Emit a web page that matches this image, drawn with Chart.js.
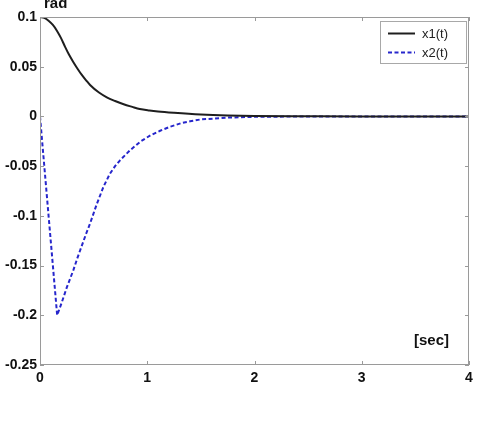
<!DOCTYPE html>
<html>
<head>
<meta charset="utf-8">
<script src="https://cdn.jsdelivr.net/npm/chart.js@4/dist/chart.umd.min.js"></script>
<style>
html,body{margin:0;padding:0;background:#fff;}
canvas{display:block;}
</style>
</head>
<body>
<canvas id="c" width="481" height="426"></canvas>
<script>
// ---- data ----
const x1T = [0, 0.04, 0.08, 0.12, 0.156, 0.195, 0.234, 0.27, 0.31, 0.35, 0.39, 0.43, 0.467, 0.55, 0.623, 0.7, 0.78, 0.86, 0.93, 1.02, 1.1, 1.25, 1.5, 1.75, 2.0, 2.5, 3.0, 3.5, 4.0];
const x1V = [0.1, 0.0992, 0.0963, 0.092, 0.0865, 0.079, 0.070, 0.0622, 0.0548, 0.048, 0.0417, 0.0363, 0.0316, 0.024, 0.0192, 0.0155, 0.0122, 0.0096, 0.0075, 0.006, 0.005, 0.0037, 0.002, 0.001, 0.0005, 0.0002, 0, 0, 0];
const x2T = [0, 0.16, 0.2, 0.25, 0.311, 0.35, 0.39, 0.43, 0.467, 0.53, 0.592, 0.65, 0.7, 0.748, 0.84, 0.935, 1.03, 1.12, 1.21, 1.31, 1.4, 1.5, 1.75, 2.0, 2.5, 3.0, 3.5, 4.0];
const x2V = [0, -0.2, -0.188, -0.172, -0.1546, -0.142, -0.13, -0.118, -0.1076, -0.088, -0.0707, -0.058, -0.050, -0.0439, -0.034, -0.0254, -0.019, -0.0144, -0.0105, -0.007, -0.0048, -0.003, -0.0012, -0.0004, 0, 0, 0, 0];
const seriesNames = ['x1(t)', 'x2(t)'];
const xTicks = [0, 1, 2, 3, 4];
const xTickLabels = ['0', '1', '2', '3', '4'];
const yTicks = [0.1, 0.05, 0, -0.05, -0.1, -0.15, -0.2, -0.25];
const yTickLabels = ['0.1', '0.05', '0', '-0.05', '-0.1', '-0.15', '-0.2', '-0.25'];
const yAxisTitle = 'rad';
const xAxisTitle = '[sec]';

const toPts = (ts, vs) => ts.map((t, i) => ({x: t, y: vs[i]}));

const AXIS = '#9a9a9a';
const FAM = '"Liberation Sans", Arial, sans-serif';

const decor = {
  id: 'decor',
  afterDraw(chart) {
    const {ctx, chartArea: a, scales: {x, y}} = chart;
    ctx.save();
    // box
    ctx.strokeStyle = AXIS;
    ctx.lineWidth = 1;
    ctx.strokeRect(Math.round(a.left) + 0.5, Math.round(a.top) + 0.5, Math.round(a.right - a.left) - 1, Math.round(a.bottom - a.top) - 1);
    // inside ticks
    const L = 4;
    ctx.beginPath();
    xTicks.forEach(v => {
      const px = Math.round(x.getPixelForValue(v)) + 0.5;
      ctx.moveTo(px, a.bottom); ctx.lineTo(px, a.bottom - L);
      ctx.moveTo(px, a.top); ctx.lineTo(px, a.top + L);
    });
    yTicks.forEach(v => {
      const py = Math.round(y.getPixelForValue(v)) + 0.5;
      ctx.moveTo(a.left, py); ctx.lineTo(a.left + L, py);
      ctx.moveTo(a.right, py); ctx.lineTo(a.right - L, py);
    });
    ctx.stroke();
    // axis titles
    ctx.fillStyle = '#111';
    ctx.font = 'bold 15px ' + FAM;
    ctx.textAlign = 'left';
    ctx.textBaseline = 'alphabetic';
    ctx.fillText(yAxisTitle, a.left + 4, 8);
    ctx.fillText(xAxisTitle, a.right - 55, a.bottom - 20);
    // legend
    const lx = 380.5, ly = 21.5, lw = 86, lh = 42;
    ctx.fillStyle = '#fff';
    ctx.fillRect(lx, ly, lw, lh);
    ctx.strokeStyle = '#a8a8a8';
    ctx.strokeRect(lx, ly, lw, lh);
    const rows = [33.5, 52.5];
    chart.data.datasets.forEach((ds, i) => {
      ctx.beginPath();
      ctx.strokeStyle = ds.borderColor;
      ctx.lineWidth = ds.borderWidth;
      ctx.setLineDash(ds.borderDash || []);
      ctx.moveTo(388, rows[i]); ctx.lineTo(415, rows[i]);
      ctx.stroke();
      ctx.setLineDash([]);
      ctx.fillStyle = '#222';
      ctx.font = '13px ' + FAM;
      ctx.textBaseline = 'middle';
      ctx.fillText(seriesNames[i], 422, rows[i] + 0.5);
    });
    ctx.restore();
  }
};

new Chart(document.getElementById('c'), {
  type: 'line',
  data: {
    datasets: [
      {
        label: seriesNames[0],
        data: toPts(x1T, x1V),
        borderColor: '#1e1e1e',
        borderWidth: 2,
        pointRadius: 0,
        cubicInterpolationMode: 'monotone',
        fill: false
      },
      {
        label: seriesNames[1],
        data: toPts(x2T, x2V),
        borderColor: '#2626cc',
        borderWidth: 2,
        borderDash: [4, 2.5],
        pointRadius: 0,
        tension: 0,
        fill: false
      }
    ]
  },
  options: {
    responsive: false,
    animation: false,
    layout: {padding: {left: 0, top: 17, right: 12, bottom: 41}},
    plugins: {legend: {display: false}, tooltip: {enabled: false}},
    scales: {
      x: {
        type: 'linear',
        min: 0, max: 4,
        afterBuildTicks: s => { s.ticks = xTicks.map(v => ({value: v})); },
        afterFit: s => { s.height = 20; },
        grid: {display: false, drawTicks: false},
        border: {display: false},
        ticks: {
          padding: 5,
          color: '#111',
          font: {family: FAM, size: 14, weight: 'bold'},
          maxRotation: 0,
          callback: v => xTickLabels[xTicks.indexOf(v)]
        }
      },
      y: {
        type: 'linear',
        min: -0.25, max: 0.1,
        afterBuildTicks: s => { s.ticks = yTicks.map(v => ({value: v})); },
        afterFit: s => { s.width = 40; },
        grid: {display: false, drawTicks: false},
        border: {display: false},
        ticks: {
          padding: 3,
          color: '#111',
          font: {family: FAM, size: 14, weight: 'bold'},
          callback: v => yTickLabels[yTicks.indexOf(v)]
        }
      }
    }
  },
  plugins: [decor]
});
</script>
</body>
</html>
